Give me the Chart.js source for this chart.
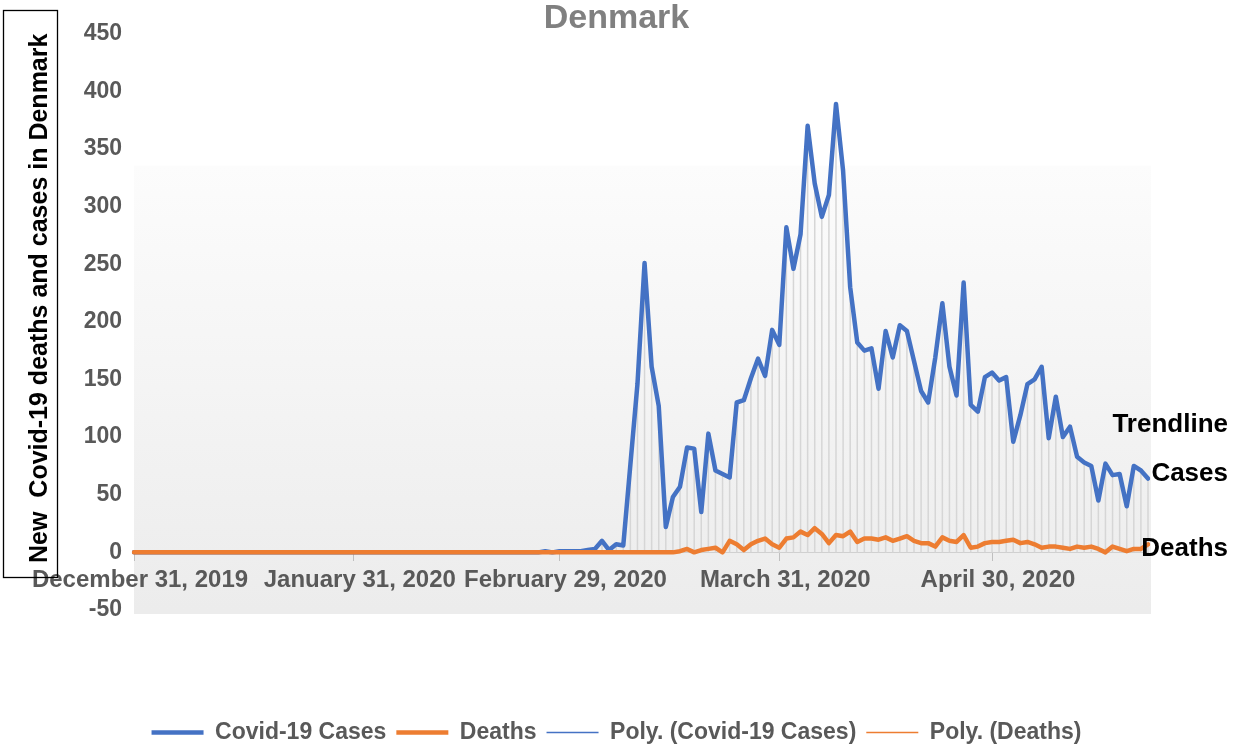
<!DOCTYPE html>
<html>
<head>
<meta charset="utf-8">
<script src="https://cdn.jsdelivr.net/npm/chart.js@4.4.1/dist/chart.umd.min.js"></script>
<style>
html,body{margin:0;padding:0;background:#ffffff;}
#wrap{width:1233px;height:746px;position:relative;}
</style>
</head>
<body>
<div id="wrap"><canvas id="c"></canvas></div>
<script>
// ---------- data ----------
const chartTitle = "Denmark";
const yAxisTitle = "New  Covid-19 deaths and cases in Denmark";
const firstDay = { year: 2019, month: 11, day: 31 };   // December 31, 2019
const monthNames = ["January","February","March","April","May","June","July","August","September","October","November","December"];
const tickLabels = ["December 31, 2019", "January 31, 2020", "February 29, 2020", "March 31, 2020", "April 30, 2020"];
const yMin = -50, yMax = 450, yStep = 50;
const seriesNames = ["Covid-19 Cases", "Deaths", "Poly. (Covid-19 Cases)", "Poly. (Deaths)"];
const sideLabels = ["Trendline", "Cases", "Deaths"];

const casesValues = [
  0,0,0,0,0,0,0,0,0,0,
  0,0,0,0,0,0,0,0,0,0,
  0,0,0,0,0,0,0,0,0,0,
  0,0,0,0,0,0,0,0,0,0,
  0,0,0,0,0,0,0,0,0,0,
  0,0,0,0,0,0,0,0,
  1,0,1,1,1,1,2,3,10,2,7,6,
  76,146,251,161,127,22,48,57,91,90,
  35,103,71,68,65,130,132,151,168,153,
  193,180,282,246,276,370,320,291,310,389,
  331,230,182,175,177,142,192,169,197,192,
  166,140,130,169,216,161,136,234,128,122,
  152,156,149,152,96,119,146,150,161,99,
  135,100,109,83,78,75,45,77,67,68,
  40,75,71,64
];

const deathsValues = [
  0,0,0,0,0,0,0,0,0,0,
  0,0,0,0,0,0,0,0,0,0,
  0,0,0,0,0,0,0,0,0,0,
  0,0,0,0,0,0,0,0,0,0,
  0,0,0,0,0,0,0,0,0,0,
  0,0,0,0,0,0,0,0,0,0,
  0,0,0,0,0,0,0,0,0,0,
  0,0,0,0,0,0,0,
  1,3,0,2,3,4,0,10,7,2,
  7,10,12,7,4,12,13,18,15,21,
  16,8,15,14,18,9,12,12,11,13,
  10,12,14,10,8,8,5,13,10,9,
  15,4,5,8,9,9,10,11,8,9,
  7,4,5,5,4,3,5,4,5,3,
  0,5,3,1,3,3,7
];

// categories: one date label per daily value
const categories = casesValues.map((_, i) => {
  const d = new Date(Date.UTC(firstDay.year, firstDay.month, firstDay.day + i));
  return monthNames[d.getUTCMonth()] + " " + d.getUTCDate() + ", " + d.getUTCFullYear();
});

// ---------- styling ----------
const BLUE = "#4472C4";
const ORANGE = "#ED7D31";
const GREY_TEXT = "#595959";
const FONT = "'Liberation Sans', Arial, sans-serif";

const plotBackground = {
  id: "plotBackground",
  beforeDraw(chart) {
    const { ctx, chartArea: a } = chart;
    const top = a.top + (a.bottom - a.top) * 0.229;
    const g = ctx.createLinearGradient(0, top, 0, a.bottom);
    g.addColorStop(0, "#fcfcfc");
    g.addColorStop(1, "#ececec");
    ctx.save();
    ctx.fillStyle = g;
    ctx.fillRect(a.left, top, a.right - a.left + 3, a.bottom - top + 4);
    ctx.restore();
  }
};

const dropLines = {
  id: "dropLines",
  beforeDatasetsDraw(chart) {
    const { ctx } = chart;
    const meta = chart.getDatasetMeta(0);
    const y0 = chart.scales.y.getPixelForValue(0);
    ctx.save();
    ctx.strokeStyle = "#d6d6d6";
    ctx.lineWidth = 1.5;
    meta.data.forEach(p => {
      ctx.beginPath();
      ctx.moveTo(p.x, p.y);
      ctx.lineTo(p.x, y0);
      ctx.stroke();
    });
    ctx.restore();
  }
};

const annotations = {
  id: "annotations",
  afterDraw(chart) {
    const { ctx } = chart;
    const ys = chart.scales.y;
    ctx.save();
    // box around the y axis title
    ctx.strokeStyle = "#000000";
    ctx.lineWidth = 1.3;
    ctx.strokeRect(3.5, 10.5, 54, 567);
    // labels at the right end of the series
    ctx.fillStyle = "#000000";
    ctx.font = "bold 26px " + FONT;
    ctx.textAlign = "right";
    ctx.textBaseline = "middle";
    const right = chart.width - 5;
    ctx.fillText(sideLabels[0], right, ys.getPixelForValue(111));
    ctx.fillText(sideLabels[1], right, ys.getPixelForValue(68));
    ctx.fillText(sideLabels[2], right, ys.getPixelForValue(3));
    ctx.restore();
  }
};

new Chart(document.getElementById("c"), {
  type: "line",
  data: {
    labels: categories,
    datasets: [
      {
        label: seriesNames[0], data: casesValues, order: 1,
        borderColor: BLUE, backgroundColor: BLUE, borderWidth: 4.5,
        pointRadius: 0, pointHoverRadius: 0, pointBorderWidth: 4.5, pointBorderColor: BLUE,
        borderJoinStyle: "round", borderCapStyle: "round", tension: 0
      },
      {
        label: seriesNames[1], data: deathsValues, order: 0,
        borderColor: ORANGE, backgroundColor: ORANGE, borderWidth: 4.5,
        pointRadius: 0, pointHoverRadius: 0, pointBorderWidth: 4.5, pointBorderColor: ORANGE,
        borderJoinStyle: "round", borderCapStyle: "round", tension: 0
      },
      {
        label: seriesNames[2], data: [], order: 2,
        borderColor: BLUE, backgroundColor: BLUE, borderWidth: 1.5,
        pointRadius: 0, pointBorderWidth: 1.5, pointBorderColor: BLUE
      },
      {
        label: seriesNames[3], data: [], order: 3,
        borderColor: ORANGE, backgroundColor: ORANGE, borderWidth: 1.5,
        pointRadius: 0, pointBorderWidth: 1.5, pointBorderColor: ORANGE
      }
    ]
  },
  options: {
    responsive: true,
    maintainAspectRatio: false,
    animation: false,
    layout: { padding: { left: 0, right: 0, top: 0, bottom: -8 } },
    plugins: {
      tooltip: { enabled: false },
      title: {
        display: true, text: chartTitle, color: "#808080",
        font: { family: FONT, size: 34, weight: "bold", lineHeight: 0.9 },
        padding: { top: 3, bottom: 0 }
      },
      legend: {
        display: true, position: "bottom",
        title: { display: true, text: "", font: { size: 10, lineHeight: 1 }, padding: { top: 0, bottom: 91 } },
        labels: {
          usePointStyle: true, pointStyle: "line", pointStyleWidth: 52,
          color: GREY_TEXT, padding: 10,
          font: { family: FONT, size: 23, weight: "bold" },
          sort: (a, b) => a.datasetIndex - b.datasetIndex
        }
      }
    },
    scales: {
      x: {
        type: "category",
        position: { y: 0 },
        offset: false,
        afterBuildTicks(scale) {
          scale.ticks = scale.ticks.filter(t => tickLabels.includes(categories[t.value]));
        },
        ticks: {
          autoSkip: false, maxRotation: 0, minRotation: 0,
          color: GREY_TEXT, padding: 6, labelOffset: 6,
          font: { family: FONT, size: 24, weight: "bold" }
        },
        grid: { display: true, drawOnChartArea: false, drawTicks: true, tickLength: 8, color: "#bfbfbf", lineWidth: 1 },
        border: { display: true, color: "#d0d0d0", width: 1 }
      },
      y: {
        min: yMin, max: yMax,
        afterFit(scale) { scale.width = 134; },
        ticks: {
          stepSize: yStep, color: GREY_TEXT, padding: 4,
          font: { family: FONT, size: 23, weight: "bold" }
        },
        grid: { display: false },
        border: { display: false },
        title: {
          display: true, text: yAxisTitle, align: "end", color: "#000000",
          font: { family: FONT, size: 25, weight: "bold", lineHeight: 1.2 },
          padding: { top: 25, bottom: 0 }
        }
      },
      labelSpace: {
        type: "linear", position: "right", display: true,
        min: yMin, max: yMax,
        afterFit(scale) { scale.width = 85; },
        ticks: { display: false },
        grid: { display: false },
        border: { display: false }
      }
    }
  },
  plugins: [plotBackground, dropLines, annotations]
});
</script>
</body>
</html>
